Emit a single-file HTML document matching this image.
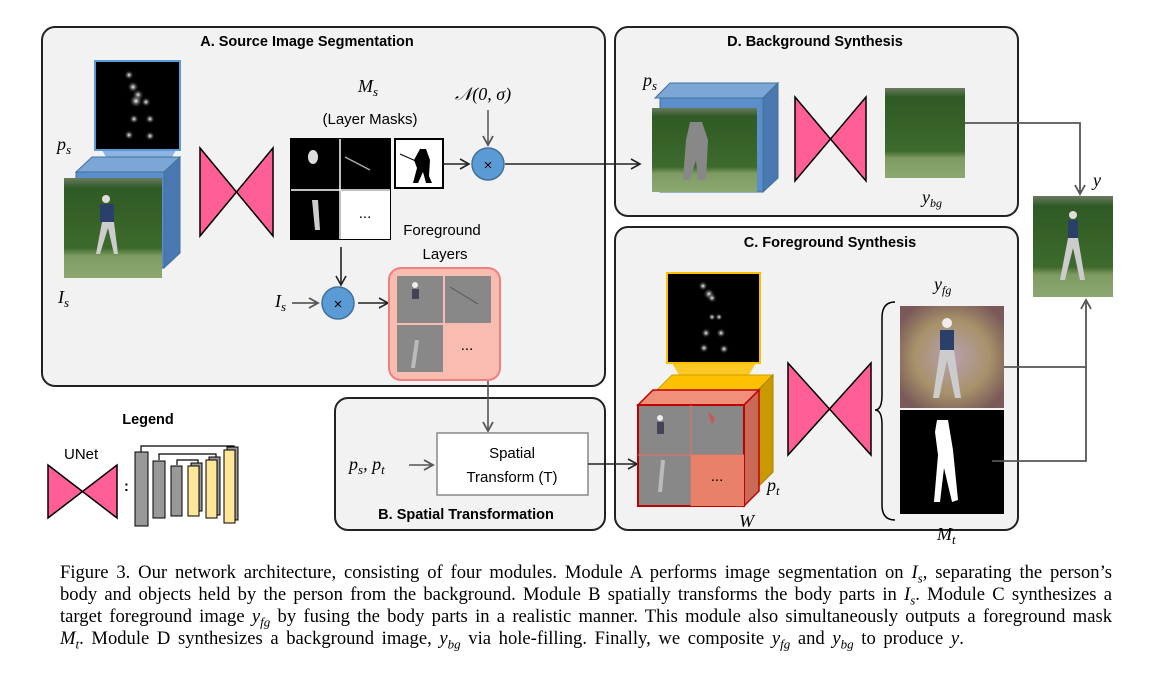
<!DOCTYPE html>
<html><head><meta charset="utf-8"><style>
body{margin:0;background:#fff;width:1175px;height:683px;overflow:hidden;position:relative}
svg{position:absolute;left:0;top:0}
.t{font-family:"Liberation Sans",sans-serif;font-weight:bold;font-size:14.5px;fill:#000}
.s{font-family:"Liberation Sans",sans-serif;font-size:15px;fill:#000}
.m{font-family:"Liberation Serif",serif;font-style:italic;font-size:18px;fill:#000}
.cap{position:absolute;left:60px;width:1052px;font-family:"Liberation Serif",serif;font-size:18.6px;line-height:22px;text-align:justify;text-align-last:justify;white-space:nowrap}
.cap i{font-style:italic}
.cap sub{font-size:13px;line-height:0}
</style></head><body>
<svg width="1175" height="683" viewBox="0 0 1175 683">
<defs>
<marker id="ar" markerWidth="12" markerHeight="12" refX="10" refY="6" orient="auto" markerUnits="userSpaceOnUse"><path d="M1,1 L10,6 L1,11" fill="none" stroke="#222" stroke-width="1.6"/></marker>
<marker id="ag" markerWidth="12" markerHeight="12" refX="10" refY="6" orient="auto" markerUnits="userSpaceOnUse"><path d="M1,1 L10,6 L1,11" fill="none" stroke="#555" stroke-width="1.8"/></marker>
<linearGradient id="ph" x1="0" y1="0" x2="0" y2="1"><stop offset="0" stop-color="#6a7a60"/><stop offset="0.1" stop-color="#2f5a25"/><stop offset="0.7" stop-color="#3d6a2c"/><stop offset="0.78" stop-color="#7e9c62"/><stop offset="1" stop-color="#8aa870"/></linearGradient>
<radialGradient id="dot"><stop offset="0" stop-color="#fff"/><stop offset="1" stop-color="#000" stop-opacity="0"/></radialGradient>
<radialGradient id="fz" cx="0.5" cy="0.5" r="0.6"><stop offset="0" stop-color="#b9a0b0"/><stop offset="0.6" stop-color="#a7926a"/><stop offset="1" stop-color="#7a5a58"/></radialGradient>
</defs>

<rect x="42" y="27" width="563" height="359" rx="13" fill="#f2f2f2" stroke="#222" stroke-width="2"/>
<rect x="615" y="27" width="403" height="189" rx="13" fill="#f2f2f2" stroke="#222" stroke-width="2"/>
<rect x="615" y="227" width="403" height="303" rx="13" fill="#f2f2f2" stroke="#222" stroke-width="2"/>
<rect x="335" y="398" width="270" height="132" rx="13" fill="#f2f2f2" stroke="#222" stroke-width="2"/>
<text class="t" x="307" y="46" text-anchor="middle">A. Source Image Segmentation</text>
<text class="t" x="815" y="46" text-anchor="middle">D. Background Synthesis</text>
<text class="t" x="830" y="247" text-anchor="middle">C. Foreground Synthesis</text>
<text class="t" x="466" y="519" text-anchor="middle">B. Spatial Transformation</text>

<polygon points="102,150 176,150 172,157 106,157" fill="#8db4e2"/>
<rect x="95" y="61" width="85" height="89" fill="#000" stroke="#5b9bd5" stroke-width="2"/>
<g fill="url(#dot)"><circle cx="129" cy="75" r="5"/><circle cx="133" cy="87" r="6"/><circle cx="138" cy="95" r="6"/><circle cx="136" cy="101" r="7"/><circle cx="146" cy="102" r="5"/><circle cx="134" cy="119" r="5"/><circle cx="150" cy="119" r="5"/><circle cx="129" cy="135" r="5"/><circle cx="150" cy="136" r="5"/></g>
<polygon points="76,172 92,157 180,157 164,172" fill="#7ba6d6" stroke="#41719c"/>
<polygon points="164,172 180,157 180,253 164,268" fill="#4a78b0" stroke="#41719c"/>
<rect x="76" y="172" width="88" height="96" fill="#5b8fcc" stroke="#41719c"/>
<rect x="64" y="178" width="98" height="100" fill="url(#ph)"/>
<g fill="#ddd"><circle cx="106" cy="199" r="4"/><rect x="100" y="204" width="14" height="18" fill="#2a3f6a"/><path d="M102,222 L96,254 L100,254 L108,228 L114,254 L118,254 L114,222Z" fill="#ccc"/></g>
<text class="m" x="57" y="150">p<tspan font-size="13" dy="4">s</tspan></text>
<text class="m" x="58" y="303">I<tspan font-size="13" dy="4">s</tspan></text>

<polygon points="200,148 273,236 273,148 200,236" fill="#ff5f96" stroke="#000" stroke-width="1.5"/>

<text class="m" x="358" y="92" font-size="19">M<tspan font-size="13" dy="4">s</tspan></text>
<text class="s" x="370" y="124" text-anchor="middle" font-size="16">(Layer Masks)</text>
<rect x="291" y="139" width="99" height="100" fill="#000" stroke="#000" stroke-width="2"/>
<line x1="340" y1="139" x2="340" y2="239" stroke="#fff" stroke-width="1.5"/>
<line x1="291" y1="190" x2="390" y2="190" stroke="#fff" stroke-width="1.5"/>
<rect x="341" y="191" width="49" height="48" fill="#fff"/>
<text class="s" x="365" y="218" text-anchor="middle" font-size="13">...</text>
<ellipse cx="313" cy="157" rx="5" ry="7" fill="#ddd"/>
<line x1="345" y1="157" x2="370" y2="170" stroke="#aaa" stroke-width="1.5"/>
<path d="M312,200 L315,230 L320,230 L318,200Z" fill="#ccc"/>
<rect x="395" y="139" width="48" height="49" fill="#fff" stroke="#000" stroke-width="2"/>
<path d="M420,149 L426,149 L430,160 L429,176 L432,183 L426,183 L423,172 L418,183 L413,183 L417,168 L414,160Z" fill="#000"/>
<line x1="400" y1="154" x2="418" y2="162" stroke="#000"/>
<line x1="443" y1="164" x2="469" y2="164" stroke="#222" stroke-width="1.6" marker-end="url(#ar)"/>
<circle cx="488" cy="164" r="16" fill="#5b9bd5" stroke="#41719c" stroke-width="1.5"/>
<text class="s" x="488" y="170" text-anchor="middle" font-size="16">×</text>
<text class="m" x="455" y="100" font-size="18">𝒩(0, σ)</text>
<line x1="488" y1="110" x2="488" y2="145" stroke="#555" stroke-width="1.5" marker-end="url(#ag)"/>
<line x1="505" y1="164" x2="640" y2="164" stroke="#222" stroke-width="1.6" marker-end="url(#ar)"/>

<line x1="341" y1="247" x2="341" y2="285" stroke="#222" stroke-width="1.6" marker-end="url(#ar)"/>
<circle cx="338" cy="303" r="16" fill="#5b9bd5" stroke="#41719c" stroke-width="1.5"/>
<text class="s" x="338" y="309" text-anchor="middle" font-size="16">×</text>
<text class="m" x="275" y="307">I<tspan font-size="13" dy="4">s</tspan></text>
<line x1="292" y1="303" x2="318" y2="303" stroke="#444" stroke-width="1.6" marker-end="url(#ag)"/>
<line x1="358" y1="303" x2="388" y2="303" stroke="#222" stroke-width="1.6" marker-end="url(#ar)"/>
<text class="s" x="442" y="235" text-anchor="middle" font-size="16">Foreground</text>
<text class="s" x="445" y="259" text-anchor="middle" font-size="16">Layers</text>
<rect x="389" y="268" width="111" height="112" rx="12" fill="#f8bcb0" stroke="#f08080" stroke-width="2"/>
<rect x="397" y="276" width="46" height="47" fill="#888"/><rect x="445" y="276" width="46" height="47" fill="#888"/><rect x="397" y="325" width="46" height="47" fill="#888"/>
<circle cx="415" cy="285" r="3" fill="#eee"/><rect x="412" y="289" width="7" height="10" fill="#445"/>
<line x1="450" y1="287" x2="478" y2="304" stroke="#555"/><path d="M415,340 L411,368 L415,368 L419,340Z" fill="#bbb"/>
<text class="s" x="467" y="350" text-anchor="middle" font-size="13">...</text>

<line x1="488" y1="381" x2="488" y2="431" stroke="#555" stroke-width="1.6" marker-end="url(#ag)"/>
<rect x="437" y="433" width="151" height="62" fill="#fff" stroke="#888" stroke-width="1.5"/>
<text class="s" x="512" y="458" text-anchor="middle">Spatial</text>
<text class="s" x="512" y="482" text-anchor="middle">Transform (T)</text>
<text class="m" x="349" y="470">p<tspan font-size="13" dy="4">s</tspan><tspan dy="-4">, p</tspan><tspan font-size="13" dy="4">t</tspan></text>
<line x1="409" y1="465" x2="433" y2="465" stroke="#555" stroke-width="1.5" marker-end="url(#ag)"/>
<line x1="588" y1="464" x2="637" y2="464" stroke="#222" stroke-width="1.6" marker-end="url(#ar)"/>

<text class="m" x="643" y="86">p<tspan font-size="13" dy="4">s</tspan></text>
<polygon points="655,98 670,83 778,83 763,98" fill="#7ba6d6" stroke="#41719c"/>
<polygon points="763,98 778,83 778,178 763,192" fill="#4a78b0" stroke="#41719c"/>
<rect x="660" y="98" width="103" height="94" fill="#5b8fcc" stroke="#41719c"/>
<rect x="652" y="108" width="105" height="84" fill="url(#ph)"/>
<path d="M690,122 L702,122 L708,140 L706,180 L698,180 L696,160 L690,180 L683,180 L686,140Z" fill="#888"/>
<polygon points="795,97 866,181 866,97 795,181" fill="#ff5f96" stroke="#000" stroke-width="1.5"/>
<rect x="885" y="88" width="80" height="90" fill="url(#ph)"/>
<text class="m" x="922" y="203">y<tspan font-size="12" dy="4">bg</tspan></text>
<polyline points="965,123 1080,123 1080,194" fill="none" stroke="#555" stroke-width="1.8" marker-end="url(#ag)"/>

<rect x="1033" y="196" width="80" height="101" fill="url(#ph)"/>
<g><circle cx="1073" cy="215" r="4" fill="#ddd"/><rect x="1068" y="220" width="10" height="18" fill="#2a3f6a"/><path d="M1068,238 L1060,280 L1065,280 L1073,248 L1080,280 L1085,280 L1078,238Z" fill="#ccc"/></g>
<text class="m" x="1093" y="186">y</text>

<polygon points="672,363 756,363 746,380 682,380" fill="#ffc000" opacity="0.85"/>
<rect x="667" y="273" width="93" height="90" fill="#000" stroke="#ffc000" stroke-width="2"/>
<g fill="url(#dot)"><circle cx="703" cy="286" r="5"/><circle cx="709" cy="294" r="6"/><circle cx="712" cy="298" r="5"/><circle cx="712" cy="317" r="4"/><circle cx="719" cy="317" r="4"/><circle cx="706" cy="333" r="5"/><circle cx="721" cy="333" r="5"/><circle cx="704" cy="348" r="5"/><circle cx="724" cy="349" r="5"/></g>
<polygon points="657,390 672,375 773,375 758,390" fill="#ffc000" stroke="#c9a000"/>
<polygon points="758,390 773,375 773,472 758,487" fill="#c99a00" stroke="#b08000"/>
<rect x="657" y="390" width="101" height="97" fill="#e0aa10"/>
<polygon points="638,405 653,390 759,390 744,405" fill="#f0907a" stroke="#c00000" stroke-width="1.5"/>
<polygon points="744,405 759,390 759,491 744,506" fill="#c96a58" stroke="#c00000" stroke-width="1.5"/>
<rect x="638" y="405" width="106" height="101" fill="#888" stroke="#c00000" stroke-width="2"/>
<line x1="691" y1="405" x2="691" y2="506" stroke="#e87060"/><line x1="638" y1="455" x2="744" y2="455" stroke="#e87060"/>
<rect x="691" y="455" width="53" height="51" fill="#e8806a"/>
<text class="s" x="717" y="481" text-anchor="middle" font-size="13">...</text>
<circle cx="660" cy="418" r="3" fill="#eee"/><rect x="657" y="422" width="7" height="12" fill="#445"/>
<path d="M661,460 L658,492 L662,492 L665,460Z" fill="#bbb"/><path d="M708,412 L712,425 L715,418Z" fill="#c55"/>
<text class="m" x="767" y="491">p<tspan font-size="13" dy="4">t</tspan></text>
<text class="m" x="739" y="527">W</text>
<polygon points="788,363 871,455 871,363 788,455" fill="#ff5f96" stroke="#000" stroke-width="1.5"/>
<path d="M895,302 Q882,302 882,318 L882,395 Q882,410 875,410 Q882,410 882,425 L882,505 Q882,520 895,520" fill="none" stroke="#000" stroke-width="1.5"/>
<text class="m" x="934" y="290">y<tspan font-size="12" dy="4">fg</tspan></text>
<rect x="900" y="306" width="104" height="102" fill="url(#fz)"/>
<circle cx="947" cy="323" r="5" fill="#eee"/><rect x="940" y="330" width="14" height="20" fill="#2a3f6a"/><path d="M940,350 L933,398 L939,398 L947,360 L955,398 L961,398 L954,350Z" fill="#ccc"/>
<rect x="900" y="410" width="104" height="104" fill="#000"/>
<path d="M937,420 L948,420 L953,450 L958,500 L952,502 L944,468 L940,502 L934,502 L938,455 L935,432Z" fill="#fff"/>
<text class="m" x="937" y="540">M<tspan font-size="13" dy="4">t</tspan></text>
<polyline points="1004,367 1086,367 1086,300" fill="none" stroke="#555" stroke-width="1.8" marker-end="url(#ag)"/>
<polyline points="992,461 1086,461 1086,367" fill="none" stroke="#555" stroke-width="1.8"/>

<text class="t" x="148" y="424" text-anchor="middle" font-size="15">Legend</text>
<text class="s" x="64" y="459" font-size="16">UNet</text>
<polygon points="48,465 117,518 117,465 48,518" fill="#ff5f96" stroke="#000" stroke-width="1.5"/>
<text class="t" x="124" y="491" font-size="16">:</text>
<g stroke="#000" stroke-width="1.2" fill="none"><polyline points="141,452 141,446 234,446 234,447"/><polyline points="159,460 159,454 216,454 216,460"/><polyline points="177,465 177,460 198,460 198,465"/></g>
<g stroke="#000" stroke-width="1"><rect x="135" y="452" width="13" height="74" fill="#999"/><rect x="153" y="461" width="12" height="57" fill="#999"/><rect x="171" y="466" width="11" height="50" fill="#999"/>
<rect x="191" y="463" width="11" height="48" fill="#999"/><rect x="188" y="466" width="11" height="50" fill="#ffe699"/>
<rect x="209" y="457" width="11" height="58" fill="#999"/><rect x="206" y="460" width="11" height="58" fill="#ffe699"/>
<rect x="227" y="447" width="11" height="73" fill="#999"/><rect x="224" y="450" width="11" height="73" fill="#ffe699"/></g>
</svg>
<div class="cap" style="top:562px">Figure 3. Our network architecture, consisting of four modules. Module A performs image segmentation on <i>I<sub>s</sub></i>, separating the person’s</div>
<div class="cap" style="top:584px">body and objects held by the person from the background. Module B spatially transforms the body parts in <i>I<sub>s</sub></i>. Module C synthesizes a</div>
<div class="cap" style="top:606px">target foreground image <i>y<sub>fg</sub></i> by fusing the body parts in a realistic manner. This module also simultaneously outputs a foreground mask</div>
<div class="cap" style="top:628px;text-align-last:left;word-spacing:3px"><i>M<sub>t</sub></i>. Module D synthesizes a background image, <i>y<sub>bg</sub></i> via hole-filling. Finally, we composite <i>y<sub>fg</sub></i> and <i>y<sub>bg</sub></i> to produce <i>y</i>.</div>
</body></html>
